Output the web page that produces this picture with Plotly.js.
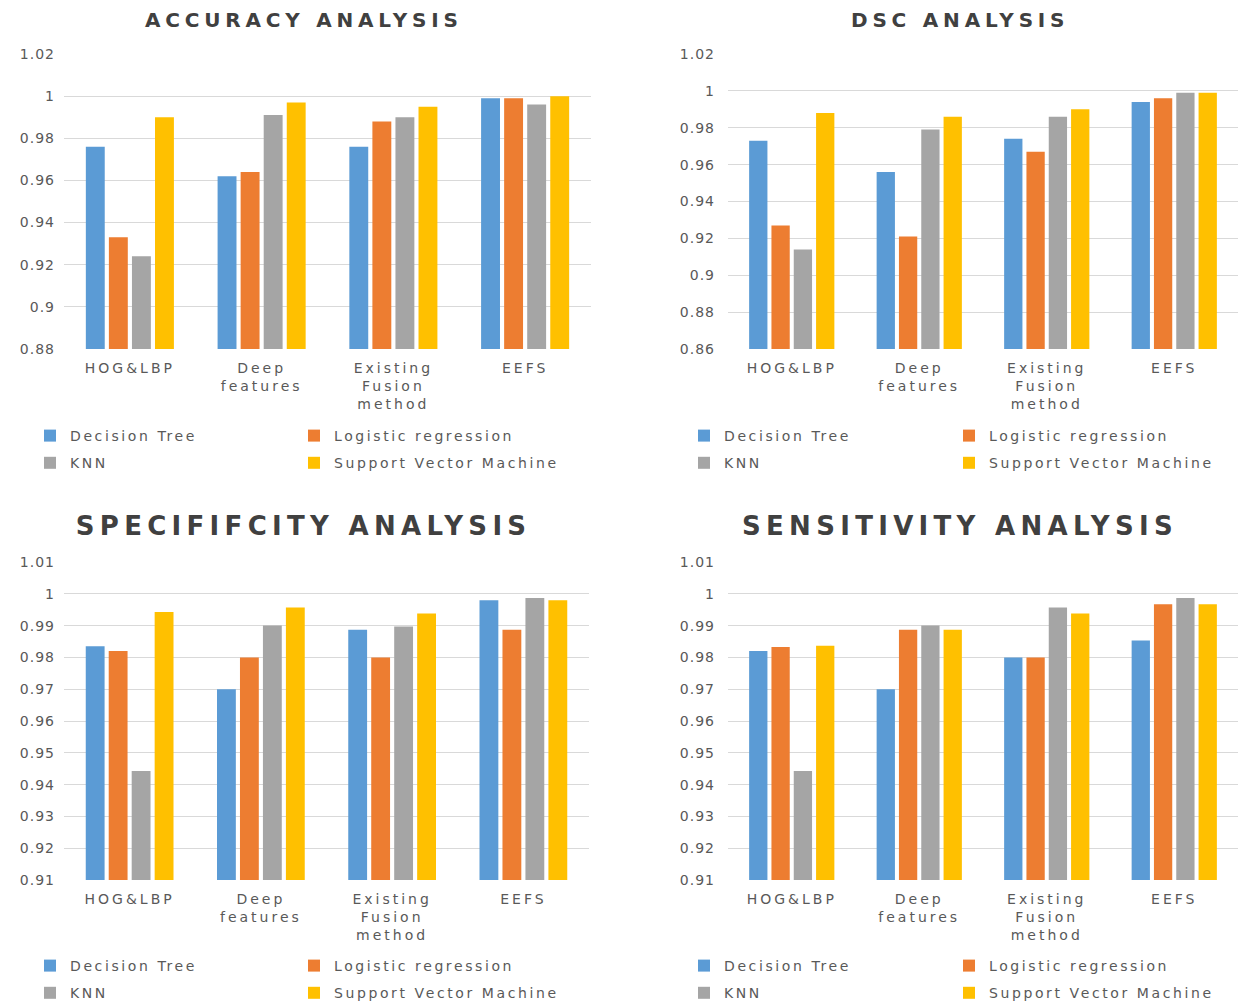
<!DOCTYPE html>
<html>
<head>
<meta charset="utf-8">
<script src="https://cdn.plot.ly/plotly-3.0.1.min.js"></script>
<style>
  html, body { margin: 0; padding: 0; background: #fff; }
  #chart { width: 1238px; height: 1003px; }
  /* the reference uses a wide, horizontally stretched type */
  .xtick text, .x2tick text, .x3tick text, .x4tick text { letter-spacing: 3px; }
  .ytick text, .y2tick text, .y3tick text, .y4tick text { letter-spacing: 1px; }
  .infolayer [class^="legend"] text, text.legendtext { letter-spacing: 2.6px; }
  .infolayer g[class^="legend"] g.scrollbox, .infolayer g[class^="legend"] { clip-path: none !important; }
  .annotation-text { letter-spacing: 4.8px; }
  g.annotation[data-index="2"] text, g.annotation[data-index="3"] text { letter-spacing: 5.3px; }
</style>
</head>
<body>
<div id="chart"></div>
<script>
// ---- data ----
const categories = ["HOG&LBP", "Deep<br>features", "Existing<br>Fusion<br>method", "EEFS"];
const seriesNames = ["Decision Tree", "Logistic regression", "KNN", "Support Vector Machine"];
const chartTitles = ["ACCURACY ANALYSIS", "DSC ANALYSIS", "SPECIFIFCITY ANALYSIS", "SENSITIVITY ANALYSIS"];

const accuracyDT  = [0.976, 0.962, 0.976, 0.999];
const accuracyLR  = [0.933, 0.964, 0.988, 0.999];
const accuracyKNN = [0.924, 0.991, 0.990, 0.996];
const accuracySVM = [0.990, 0.997, 0.995, 1.000];

const dscDT  = [0.973, 0.956, 0.974, 0.994];
const dscLR  = [0.927, 0.921, 0.967, 0.996];
const dscKNN = [0.914, 0.979, 0.986, 0.999];
const dscSVM = [0.988, 0.986, 0.990, 0.999];

const specDT  = [0.9835, 0.970, 0.9887, 0.998];
const specLR  = [0.982, 0.980, 0.980, 0.9887];
const specKNN = [0.9443, 0.990, 0.9897, 0.9987];
const specSVM = [0.9943, 0.9957, 0.9938, 0.998];

const sensDT  = [0.982, 0.970, 0.980, 0.9853];
const sensLR  = [0.9833, 0.9887, 0.980, 0.9967];
const sensKNN = [0.9443, 0.990, 0.9957, 0.9987];
const sensSVM = [0.9837, 0.9887, 0.9938, 0.9967];

// ---- styling ----
const colors = ["#5B9BD5", "#ED7D31", "#A5A5A5", "#FFC000"];
const FONT = "DejaVu Sans, Verdana, sans-serif";
const TXT = "#595959";

const panels = [
  {series: [accuracyDT, accuracyLR, accuracyKNN, accuracySVM], xa: "x",  ya: "y",  legs: ["legend", "legend2"]},
  {series: [dscDT, dscLR, dscKNN, dscSVM],                     xa: "x2", ya: "y2", legs: ["legend3", "legend4"]},
  {series: [specDT, specLR, specKNN, specSVM],                 xa: "x3", ya: "y3", legs: ["legend5", "legend6"]},
  {series: [sensDT, sensLR, sensKNN, sensSVM],                 xa: "x4", ya: "y4", legs: ["legend7", "legend8"]}
];

const traces = [];
panels.forEach((p, pi) => {
  p.series.forEach((vals, si) => {
    traces.push({
      type: "bar",
      name: seriesNames[si],
      x: categories,
      y: vals,
      xaxis: p.xa,
      yaxis: p.ya,
      marker: {color: colors[si]},
      legend: p.legs[si % 2],
      legendgroup: "g" + pi + "_" + si,
      hoverinfo: "x+y+name"
    });
  });
});

const W = 1238, H = 1003;
const px = v => v / W;
const py = v => 1 - v / H;

function xAxis(l, r, anchor) {
  return {
    domain: [px(l), px(r)], anchor: anchor,
    showgrid: false, showline: false, zeroline: false, ticks: "",
    ticklabelstandoff: 9,
    tickfont: {family: FONT, size: 14, color: TXT},
    fixedrange: true
  };
}
function yAxis(top, bottom, range, dtick, anchor, standoff) {
  return {
    domain: [py(bottom), py(top)],
    range: range, dtick: dtick, tick0: range[0],
    showgrid: true, gridcolor: "#D9D9D9", gridwidth: 1,
    showline: false, zeroline: false, ticks: "",
    ticklabelstandoff: standoff,
    tickfont: {family: FONT, size: 14, color: TXT},
    anchor: anchor,
    fixedrange: true
  };
}
function legend(x, yTop) {
  return {
    x: px(x), y: py(yTop), xanchor: "left", yanchor: "top",
    orientation: "v", bgcolor: "rgba(0,0,0,0)",
    font: {family: FONT, size: 14, color: TXT},
    tracegroupgap: 6, traceorder: "grouped"
  };
}
function title(text, xc, yc, size) {
  return {
    text: text, xref: "paper", yref: "paper", x: px(xc), y: py(yc),
    xanchor: "center", yanchor: "middle", showarrow: false,
    font: {family: FONT, size: size, color: "#404040", weight: "bold"}
  };
}

const layout = {
  width: W, height: H, autosize: false,
  margin: {l: 0, r: 0, t: 0, b: 0, autoexpand: false},
  paper_bgcolor: "#fff", plot_bgcolor: "#fff",
  barmode: "group", bargap: 0.3, bargroupgap: 0.18,
  xaxis:  xAxis(64, 591, "y"),
  yaxis:  yAxis(54, 349, [0.88, 1.02], 0.02, "x", 8),
  xaxis2: xAxis(728, 1238, "y2"),
  yaxis2: yAxis(54, 349, [0.86, 1.02], 0.02, "x2", 12),
  xaxis3: xAxis(64, 589, "y3"),
  yaxis3: yAxis(562, 880, [0.91, 1.01], 0.01, "x3", 8),
  xaxis4: xAxis(728, 1238, "y4"),
  yaxis4: yAxis(562, 880, [0.91, 1.01], 0.01, "x4", 12),
  legend:  legend(30, 420),
  legend2: legend(294, 420),
  legend3: legend(684, 420),
  legend4: legend(949, 420),
  legend5: legend(30, 950),
  legend6: legend(294, 950),
  legend7: legend(684, 950),
  legend8: legend(949, 950),
  annotations: [
    title(chartTitles[0], 304, 20, 20),
    title(chartTitles[1], 960, 20, 20),
    title(chartTitles[2], 303, 526, 26),
    title(chartTitles[3], 960, 526, 26)
  ],
  showlegend: true
};

Plotly.newPlot("chart", traces, layout, {displayModeBar: false, staticPlot: true});
</script>
</body>
</html>
